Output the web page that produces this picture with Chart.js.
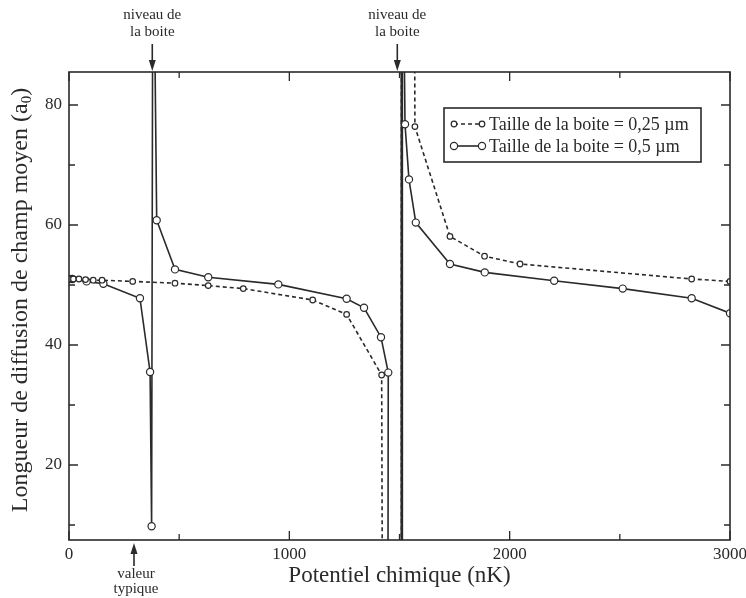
<!DOCTYPE html>
<html>
<head>
<meta charset="utf-8">
<script src="https://cdn.jsdelivr.net/npm/chart.js@4/dist/chart.umd.min.js"></script>
<style>
  body { margin: 0; background: #fff; }
  canvas { display: block; }
</style>
</head>
<body>
<canvas id="chart" width="746" height="598"></canvas>
<script>
// axis ranges and ticks
var xMin = 0, xMax = 3000;
var yMin = 7.5, yMax = 85.5;
var xTicks = [0, 1000, 2000, 3000];
var xMinorTicks = [500, 1500, 2500];
var yTicks = [20, 40, 60, 80];
var yMinorTicks = [10, 30, 50, 70];

// box size 0.25 um (dashed) - null breaks the line at the divergence
var box025X = [0, 20, 45, 75, 110, 150, 289, 481, 632, 791, 1106, 1260, 1419, 1424, null, 1509, 1509, 1566, 1570, 1729, 1886, 2047, 2826, 3000];
var box025Y = [51, 51, 51, 50.9, 50.8, 50.8, 50.6, 50.3, 49.9, 49.4, 47.5, 45.1, 35, -20, null, -20, 120, 120, 76.4, 58.1, 54.8, 53.5, 51, 50.6];

// box size 0.5 um (solid)
var box05X = [0, 15, 80, 156, 322, 368, 375, 381, 398, 481, 632, 950, 1260, 1339, 1416, 1449, 1447, null, 1513, 1513, 1525, 1543, 1574, 1729, 1887, 2202, 2513, 2826, 3000];
var box05Y = [51, 51, 50.6, 50.2, 47.8, 35.5, 9.8, 120, 60.8, 52.6, 51.3, 50.1, 47.7, 46.2, 41.3, 35.4, -20, null, -20, 120, 76.8, 67.6, 60.4, 53.5, 52.1, 50.7, 49.4, 47.8, 45.3];

// annotations
var niveauX = [378, 1490];
var typicalX = 295;

var labels = ["Taille de la boite = 0,25 \u00b5m", "Taille de la boite = 0,5 \u00b5m"];

var ink = "#2a2a2a";
var serif = "'Liberation Serif', 'DejaVu Serif', serif";

function toPoints(xs, ys) {
  return xs.map(function (x, i) {
    return { x: x, y: ys[i] };
  });
}

function drawArrow(ctx, x, y0, y1) {
  // shaft from y0 to y1, filled head at y1
  var dir = y1 > y0 ? 1 : -1;
  ctx.beginPath();
  ctx.moveTo(x, y0);
  ctx.lineTo(x, y1 - dir * 8);
  ctx.lineWidth = 1.6;
  ctx.stroke();
  ctx.beginPath();
  ctx.moveTo(x, y1);
  ctx.lineTo(x - 3.5, y1 - dir * 11);
  ctx.lineTo(x + 3.5, y1 - dir * 11);
  ctx.closePath();
  ctx.fill();
}

var decorPlugin = {
  id: "decor",
  afterDatasetsDraw: function (chart) {
    var ctx = chart.ctx;
    var a = chart.chartArea;
    var xs = chart.scales.x, ys = chart.scales.y;
    ctx.save();
    ctx.strokeStyle = ink;
    ctx.fillStyle = ink;

    // frame
    ctx.lineWidth = 1.6;
    ctx.strokeRect(a.left, a.top, a.right - a.left, a.bottom - a.top);

    // inward ticks on all four sides
    ctx.lineWidth = 1.3;
    function xTick(v, len) {
      var px = xs.getPixelForValue(v);
      ctx.beginPath();
      ctx.moveTo(px, a.bottom); ctx.lineTo(px, a.bottom - len);
      ctx.moveTo(px, a.top); ctx.lineTo(px, a.top + len);
      ctx.stroke();
    }
    function yTick(v, len) {
      var py = ys.getPixelForValue(v);
      ctx.beginPath();
      ctx.moveTo(a.left, py); ctx.lineTo(a.left + len, py);
      ctx.moveTo(a.right, py); ctx.lineTo(a.right - len, py);
      ctx.stroke();
    }
    xTicks.forEach(function (v) { xTick(v, 9); });
    xMinorTicks.forEach(function (v) { xTick(v, 6); });
    yTicks.forEach(function (v) { yTick(v, 9); });
    yMinorTicks.forEach(function (v) { yTick(v, 6); });

    // "niveau de la boite" arrows
    ctx.font = "15px " + serif;
    ctx.textAlign = "center";
    ctx.textBaseline = "middle";
    niveauX.forEach(function (v) {
      var px = xs.getPixelForValue(v);
      ctx.fillText("niveau de", px, 15);
      ctx.fillText("la boite", px, 32);
      drawArrow(ctx, px, 44, a.top - 1);
    });

    // "valeur typique"
    var tx = xs.getPixelForValue(typicalX);
    drawArrow(ctx, tx, 566, a.bottom + 3);
    ctx.fillText("valeur", tx + 2, 574);
    ctx.fillText("typique", tx + 2, 589);

    // axis titles
    ctx.font = "23px " + serif;
    ctx.fillText("Potentiel chimique (nK)", (a.left + a.right) / 2, 576);

    ctx.save();
    ctx.translate(21, (a.top + a.bottom) / 2 - 6);
    ctx.rotate(-Math.PI / 2);
    var main = "Longueur de diffusion de champ moyen (a";
    ctx.font = "24px " + serif;
    var w1 = ctx.measureText(main).width;
    ctx.font = "15px " + serif;
    var w2 = ctx.measureText("0").width;
    ctx.font = "24px " + serif;
    var w3 = ctx.measureText(")").width;
    var start = -(w1 + w2 + w3) / 2;
    ctx.textAlign = "left";
    ctx.fillText(main, start, 0);
    ctx.font = "15px " + serif;
    ctx.fillText("0", start + w1, 6);
    ctx.font = "24px " + serif;
    ctx.fillText(")", start + w1 + w2, 0);
    ctx.restore();

    // legend box
    var lx = a.right - 286, ly = a.top + 36, lw = 257, lh = 54;
    ctx.fillStyle = "#fff";
    ctx.fillRect(lx, ly, lw, lh);
    ctx.fillStyle = ink;
    ctx.lineWidth = 1.6;
    ctx.strokeRect(lx, ly, lw, lh);
    ctx.font = "18px " + serif;
    ctx.textAlign = "left";
    chart.data.datasets.slice(0, 2).forEach(function (ds, i) {
      var ry = ly + 16 + i * 22;
      ctx.lineWidth = ds.borderWidth;
      ctx.setLineDash(ds.borderDash || []);
      ctx.beginPath();
      ctx.moveTo(lx + 10, ry); ctx.lineTo(lx + 38, ry);
      ctx.stroke();
      ctx.setLineDash([]);
      [lx + 10, lx + 38].forEach(function (cx) {
        ctx.beginPath();
        ctx.arc(cx, ry, ds.pointRadius, 0, Math.PI * 2);
        ctx.fillStyle = "#fff";
        ctx.fill();
        ctx.lineWidth = ds.pointBorderWidth;
        ctx.stroke();
      });
      ctx.fillStyle = ink;
      ctx.fillText(ds.label, lx + 45, ry + 1);
    });
    ctx.restore();
  }
};

var ctx = document.getElementById("chart").getContext("2d");
var chart = new Chart(ctx, {
  type: "line",
  data: {
    datasets: [
      {
        label: labels[0],
        data: toPoints(box025X, box025Y),
        borderColor: ink,
        borderWidth: 1.6,
        borderDash: [4, 3],
        pointRadius: 2.8,
        pointBorderWidth: 1.2,
        pointBackgroundColor: "#fff",
        pointBorderColor: ink,
        spanGaps: false
      },
      {
        label: labels[1],
        data: toPoints(box05X, box05Y),
        borderColor: ink,
        borderWidth: 1.6,
        pointRadius: 3.6,
        pointBorderWidth: 1.2,
        pointBackgroundColor: "#fff",
        pointBorderColor: ink,
        spanGaps: false
      },
      {
        // box level line
        label: "niveau",
        data: [{ x: 1508, y: yMin }, { x: 1508, y: yMax }],
        borderColor: ink,
        borderWidth: 1.6,
        pointRadius: 0
      }
    ]
  },
  options: {
    responsive: false,
    animation: false,
    layout: { padding: { left: 0, top: 72, right: 16, bottom: 0 } },
    plugins: {
      legend: { display: false },
      tooltip: { enabled: false }
    },
    scales: {
      x: {
        type: "linear",
        min: xMin,
        max: xMax,
        afterBuildTicks: function (s) { s.ticks = xTicks.map(function (v) { return { value: v }; }); },
        afterFit: function (s) { s.height = 58; s.paddingRight = 0; s.paddingLeft = 0; },
        grid: { display: false, drawTicks: false },
        border: { display: false },
        ticks: {
          padding: 4, color: ink, font: { family: serif, size: 17 }, maxRotation: 0,
          callback: function (v) { return String(v); }
        }
      },
      y: {
        type: "linear",
        min: yMin,
        max: yMax,
        afterBuildTicks: function (s) { s.ticks = yTicks.map(function (v) { return { value: v }; }); },
        afterFit: function (s) { s.width = 69; },
        grid: { display: false, drawTicks: false },
        border: { display: false },
        ticks: { padding: 7, color: ink, font: { family: serif, size: 17 } }
      }
    }
  },
  plugins: [decorPlugin]
});
</script>
</body>
</html>
